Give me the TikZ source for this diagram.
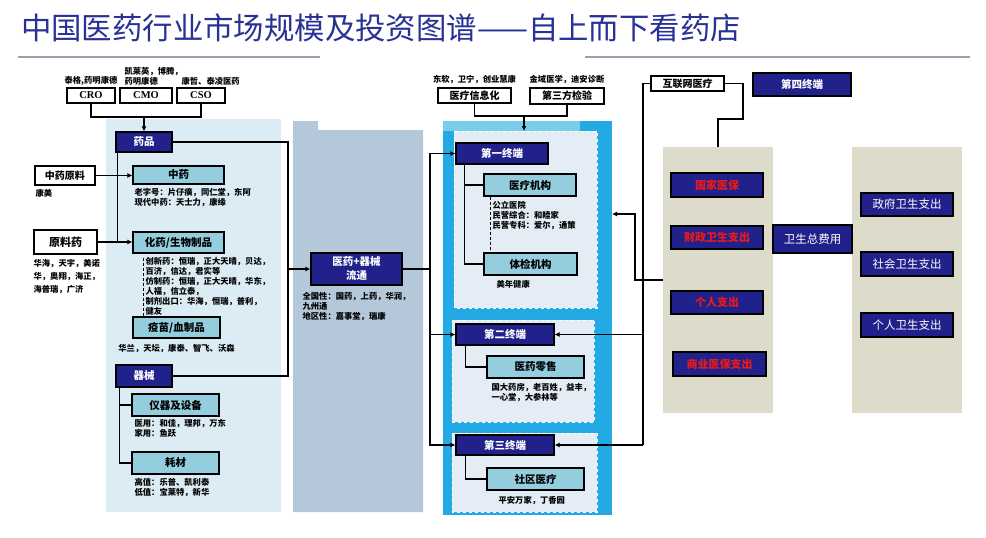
\documentclass[tikz,border=0pt]{standalone}
\usepackage{fontspec}
\setmainfont{Liberation Serif}
\newfontfamily\cjk{Noto Sans CJK SC}
\usetikzlibrary{arrows.meta, positioning}
\definecolor{boxnavy}{RGB}{33,33,140}
\definecolor{boxcyan}{RGB}{148,206,222}
\definecolor{textred}{RGB}{235,25,25}
\definecolor{panelblue}{RGB}{220,236,244}
\definecolor{panelsteel}{RGB}{180,200,218}
\definecolor{panelbright}{RGB}{35,170,228}
\definecolor{panelstrip}{RGB}{120,205,232}
\definecolor{panelinner}{RGB}{228,237,245}
\definecolor{panelbeige}{RGB}{221,219,201}
\definecolor{titleblue}{RGB}{40,50,150}
\definecolor{rulegray}{RGB}{150,160,175}

\begin{document}
\begin{tikzpicture}[
    x=1pt, y=-1pt,
    base/.style={rectangle, draw, line width=1.2pt, inner sep=0pt, align=center},
    navybox/.style={base, fill=boxnavy, text=white, font=\cjk\bfseries\fontsize{10.5}{13}\selectfont},
    redbox/.style={navybox, text=textred, font=\cjk\bfseries\fontsize{11}{13}\selectfont},
    sumbox/.style={navybox, font=\cjk\fontsize{11.5}{13}\selectfont},
    cyanbox/.style={base, fill=boxcyan, font=\cjk\bfseries\fontsize{10.5}{12}\selectfont},
    whitebox/.style={base, fill=white, font=\cjk\bfseries\fontsize{10}{12}\selectfont},
    caption/.style={inner sep=0pt, align=left, font=\cjk\bfseries\fontsize{8.3}{10}\selectfont},
    line/.style={line width=1.5pt},
    arrow/.style={line, -{Latex[length=5pt, width=5pt]}},
    dashline/.style={densely dashed, line width=0.5pt}
]
    \useasboundingbox (0,0) rectangle (986,538);
    \fill[white] (0,0) rectangle (986,538);

    \node[anchor=west, text=titleblue, font=\cjk\fontsize{30.4}{33}\selectfont, inner sep=0pt] (title) at (21,28) {中国医药行业市场规模及投资图谱——自上而下看药店};
    \draw[rulegray, line width=2pt] (18,57) -- (320,57);
    \draw[rulegray, line width=2pt] (585,57) -- (970,57);

    \fill[panelblue] (106,119) rectangle (281,512);
    \fill[panelsteel] (293,121) -- (318,121) -- (318,130) -- (423,130) -- (423,512) -- (293,512) -- cycle;
    \fill[panelbright] (443,121) rectangle (612,515);
    \fill[panelstrip] (443,121) rectangle (580,131);
    \filldraw[panelinner, draw=white, dashed, line width=0.8pt] (454,131) rectangle (597,308);
    \filldraw[panelinner, draw=white, dashed, line width=0.8pt] (452,320) rectangle (594,422);
    \filldraw[panelinner, draw=white, dashed, line width=0.8pt] (452,433) rectangle (597,512);
    \fill[panelbeige] (663,147) rectangle (773,413);
    \fill[panelbeige] (852,147) rectangle (962,413);

    \node[whitebox, minimum width=48pt, minimum height=15pt, font=\bfseries\fontsize{10.5}{12}\selectfont] (cro) at (91,95.5) {CRO};
    \node[whitebox, minimum width=52pt, minimum height=15pt, font=\bfseries\fontsize{10.5}{12}\selectfont] (cmo) at (146,95.5) {CMO};
    \node[whitebox, minimum width=48pt, minimum height=15pt, font=\bfseries\fontsize{10.5}{12}\selectfont] (cso) at (201,95.5) {CSO};
    \node[caption, above=2pt of cro] {泰格,药明康德};
    \node[caption, above right=2pt and 5pt of cmo.north west] {凯莱英，博腾，\\药明康德};
    \node[caption, above right=2pt and 5pt of cso.north west] {康哲、泰凌医药};

    \node[navybox, minimum width=56pt, minimum height=20pt] (yp) at (144,142) {药品};
    \node[cyanbox, minimum width=91pt, minimum height=18pt] (zy) at (178.5,175) {中药};
    \node[cyanbox, minimum width=91pt, minimum height=21pt] (hy) at (178.5,242.5) {化药/生物制品};
    \node[cyanbox, minimum width=87pt, minimum height=21pt] (ym) at (176.5,327.5) {疫苗/血制品};
    \node[navybox, minimum width=56pt, minimum height=22pt] (qx) at (144,376) {器械};
    \node[cyanbox, minimum width=87pt, minimum height=22pt] (yq) at (175.5,405) {仪器及设备};
    \node[cyanbox, minimum width=87pt, minimum height=22pt] (hc) at (175.5,463) {耗材};
    \node[whitebox, minimum width=60pt, minimum height=19pt] (zyyl) at (65,175.5) {中药原料};
    \node[whitebox, minimum width=63pt, minimum height=24pt, font=\cjk\bfseries\fontsize{11}{12}\selectfont] (ylyao) at (65.5,242) {原料药};

    \node[caption, below right=4pt and 1pt of zyyl.south west] {康美};
    \node[caption, below right=5pt and 0pt of ylyao.south west, font=\cjk\bfseries\fontsize{8.3}{13}\selectfont] {华海，天宇，美诺\\华，奥翔，海正，\\海普瑞，广济};
    \node[caption, below right=4pt and 2pt of zy.south west] {老字号：片仔癀，同仁堂，东阿\\现代中药：天士力，康缘};
    \node[caption, below right=4pt and 13pt of hy.south west] (caphy) {创新药：恒瑞，正大天晴，贝达，\\百济，信达，君实等\\仿制药：恒瑞，正大天晴，华东，\\人福，信立泰，\\制剂出口：华海，恒瑞，普利，\\健友};
    \node[caption, below=6pt of ym] {华兰，天坛，康泰、智飞、沃森};
    \node[caption, below right=3pt and 3pt of yq.south west] {医用：和佳，理邦，万东\\家用：鱼跃};
    \node[caption, below right=4pt and 3pt of hc.south west] {高值：乐普、凯利泰\\低值：宝莱特，新华};

    \node[navybox, minimum width=91pt, minimum height=32pt, font=\cjk\bfseries\fontsize{10.5}{14}\selectfont] (lt) at (356.5,269) {医药+器械\\流通};
    \node[caption, below right=7pt and -8pt of lt.south west] {全国性：国药，上药，华润，\\九州通\\地区性：嘉事堂，瑞康};

    \node[whitebox, minimum width=73pt, minimum height=15pt] (xxh) at (474.5,95.5) {医疗信息化};
    \node[whitebox, minimum width=74pt, minimum height=16pt] (dsf) at (567,96) {第三方检验};
    \node[caption, above=3pt of xxh] {东软，卫宁，创业慧康};
    \node[caption, above=3pt of dsf] {金域医学，迪安诊断};

    \node[navybox, minimum width=92pt, minimum height=21pt] (t1) at (502,153.5) {第一终端};
    \node[cyanbox, minimum width=92pt, minimum height=22pt] (yljg) at (530,185) {医疗机构};
    \node[cyanbox, minimum width=93pt, minimum height=22pt] (tjjg) at (530.5,264) {体检机构};
    \node[navybox, minimum width=98pt, minimum height=21pt] (t2) at (505,334.5) {第二终端};
    \node[cyanbox, minimum width=97pt, minimum height=22pt] (ylls) at (535.5,367) {医药零售};
    \node[navybox, minimum width=98pt, minimum height=20pt] (t3) at (505,445) {第三终端};
    \node[cyanbox, minimum width=97pt, minimum height=22pt] (sqyl) at (535.5,479) {社区医疗};
    \node[caption, below right=4pt and 9pt of yljg.south west] (capjg) {公立医院\\民营综合：和睦家\\民营专科：爱尔，通策};
    \node[caption, below right=5pt and 13pt of tjjg.south west] {美年健康};
    \node[caption, below right=5pt and 5pt of ylls.south west] {国大药房，老百姓，益丰，\\一心堂，大参林等};
    \node[caption, below right=5pt and 12pt of sqyl.south west] {平安万家，丁香园};

    \node[whitebox, minimum width=73pt, minimum height=15pt] (hlw) at (687.5,83.5) {互联网医疗};
    \node[navybox, minimum width=98pt, minimum height=23pt] (t4) at (802,84.5) {第四终端};
    \node[redbox, minimum width=92pt, minimum height=24pt] (gjyb) at (717,185) {国家医保};
    \node[redbox, minimum width=92pt, minimum height=23pt] (czws) at (717,237.5) {财政卫生支出};
    \node[redbox, minimum width=92pt, minimum height=23pt] (grzc) at (717,302.5) {个人支出};
    \node[redbox, minimum width=93pt, minimum height=24pt] (syyb) at (719.5,364) {商业医保支出};
    \node[sumbox, minimum width=79pt, minimum height=28pt] (wszfy) at (812.5,239) {卫生总费用};
    \node[sumbox, minimum width=92pt, minimum height=23pt] (zfws) at (907,204.5) {政府卫生支出};
    \node[sumbox, minimum width=92pt, minimum height=24pt] (shws) at (907,264) {社会卫生支出};
    \node[sumbox, minimum width=92pt, minimum height=24pt] (grws) at (907,325) {个人卫生支出};

    \coordinate (jtop) at (144,117);
    \coordinate (jmid) at (524,116);
    \coordinate (tiertop) at (524,131);
    \coordinate (busL) at (288,0);
    \coordinate (busM) at (430,0);
    \coordinate (busR) at (643,0);
    \coordinate (beigetop) at (718,147);
    \coordinate (beigeleft) at (663,280);
    \coordinate (tierright) at (612,214);

    \draw[line] (cro.south) |- (jtop) -| (cso.south); \draw[arrow] (jtop) -- (yp.north);
    \draw[line] ([xshift=2pt]yp.south west) -- ([xshift=2pt]yp.south west |- hy.west);
    \draw[arrow] (zyyl.east) -- (zyyl.east -| zy.west); \draw[arrow] (ylyao.east) -- (ylyao.east -| hy.west);
    \draw[dashline] ([xshift=-2pt]caphy.north west) -- ([xshift=-2pt]caphy.south west);
    \draw[line] (yp.east) -- (yp.east -| busL) |- (qx.east); \draw[arrow] (lt.west -| busL) -- (lt.west);
    \draw[line] ([xshift=4pt]qx.south west) |- (yq.west); \draw[line] ([xshift=4pt]qx.south west) |- (hc.west);
    \draw[line] (lt.east) -- (lt.east -| busM); \draw[arrow] (lt.east -| busM) |- (t1.west);
    \draw[arrow] (lt.east -| busM) |- (t2.west); \draw[arrow] (lt.east -| busM) |- (t3.west);
    \draw[line] (xxh.south) |- (jmid) -| (dsf.south); \draw[arrow] (jmid) -- (tiertop);
    \draw[line] ([xshift=9pt]t1.south west) |- (yljg.west); \draw[line] ([xshift=9pt]t1.south west) |- (tjjg.west);
    \draw[dashline] ([xshift=-2pt]capjg.north west |- yljg.south) -- ([xshift=-2pt]capjg.north west |- tjjg.north);
    \draw[line] ([xshift=10pt]t2.south west) |- (ylls.west); \draw[line] ([xshift=10pt]t3.south west) |- (sqyl.west);
    \draw[line] (hlw.west) -- (hlw.west -| busR) -- (t3.east -| busR);
    \draw[arrow] (t2.east -| busR) -- (t2.east); \draw[arrow] (t3.east -| busR) -- (t3.east);
    \draw[line] (hlw.east) -| (743,119) -| (beigetop);
    \draw[arrow] (beigeleft) -- (635,280) |- (tierright);
\end{tikzpicture}
\end{document}
